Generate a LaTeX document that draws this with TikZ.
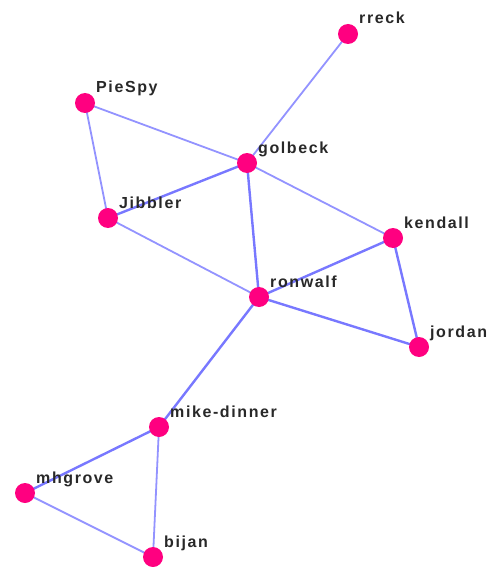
\documentclass[tikz,border=0pt]{standalone}
\usepackage{fontspec}
\setmainfont{Liberation Sans}
\newfontfamily\nickfont{Liberation Sans}[LetterSpace=10]
\definecolor{nickpink}{RGB}{255,0,128}
\definecolor{linkblue}{RGB}{120,120,255}
\definecolor{nicktext}{RGB}{40,40,40}
\begin{document}
\begin{tikzpicture}[
	x=1pt,
	y=-1pt,
	nick/.style={circle, fill=nickpink, minimum size=20pt, inner sep=0pt},
	tag/.style={anchor=base west, inner sep=0pt, text=nicktext, font=\nickfont\bfseries\fontsize{16}{16}\selectfont},
	link/.style={draw=linkblue!80, line width=1.8pt},
	strong/.style={draw=linkblue, line width=2.4pt}
	]
	\useasboundingbox (0,0) rectangle (495,567);

	% edges first, nodes on top
	\coordinate (c-rreck) at (348,34);
	\coordinate (c-piespy) at (85,103);
	\coordinate (c-golbeck) at (247,163);
	\coordinate (c-jibbler) at (108,218);
	\coordinate (c-kendall) at (393,238);
	\coordinate (c-ronwalf) at (259,297);
	\coordinate (c-jordan) at (419,347);
	\coordinate (c-mike) at (159,427);
	\coordinate (c-mhgrove) at (25,493);
	\coordinate (c-bijan) at (153,557);

	\draw[link] (c-rreck) -- (c-golbeck);
	\draw[link] (c-piespy) -- (c-golbeck);
	\draw[link] (c-piespy) -- (c-jibbler);
	\draw[strong] (c-jibbler) -- (c-golbeck);
	\draw[link] (c-jibbler) -- (c-ronwalf);
	\draw[strong] (c-golbeck) -- (c-ronwalf);
	\draw[link] (c-golbeck) -- (c-kendall);
	\draw[strong] (c-kendall) -- (c-ronwalf);
	\draw[strong] (c-kendall) -- (c-jordan);
	\draw[strong] (c-ronwalf) -- (c-jordan);
	\draw[strong] (c-ronwalf) -- (c-mike);
	\draw[strong] (c-mike) -- (c-mhgrove);
	\draw[link] (c-mike) -- (c-bijan);
	\draw[link] (c-mhgrove) -- (c-bijan);

	\node[nick] (rreck) at (c-rreck) {};
	\node[nick] (piespy) at (c-piespy) {};
	\node[nick] (golbeck) at (c-golbeck) {};
	\node[nick] (jibbler) at (c-jibbler) {};
	\node[nick] (kendall) at (c-kendall) {};
	\node[nick] (ronwalf) at (c-ronwalf) {};
	\node[nick] (jordan) at (c-jordan) {};
	\node[nick] (mike) at (c-mike) {};
	\node[nick] (mhgrove) at (c-mhgrove) {};
	\node[nick] (bijan) at (c-bijan) {};

	\node[tag] (rreck-l) at ([shift={(11,-10)}]rreck.center) {rreck};
	\node[tag] (piespy-l) at ([shift={(11,-10)}]piespy.center) {PieSpy};
	\node[tag] (golbeck-l) at ([shift={(11,-10)}]golbeck.center) {golbeck};
	\node[tag] (jibbler-l) at ([shift={(11,-10)}]jibbler.center) {Jibbler};
	\node[tag] (kendall-l) at ([shift={(11,-10)}]kendall.center) {kendall};
	\node[tag] (ronwalf-l) at ([shift={(11,-10)}]ronwalf.center) {ronwalf};
	\node[tag] (jordan-l) at ([shift={(11,-10)}]jordan.center) {jordan};
	\node[tag] (mike-l) at ([shift={(11,-10)}]mike.center) {mike-dinner};
	\node[tag] (mhgrove-l) at ([shift={(11,-10)}]mhgrove.center) {mhgrove};
	\node[tag] (bijan-l) at ([shift={(11,-10)}]bijan.center) {bijan};
\end{tikzpicture}
\end{document}
